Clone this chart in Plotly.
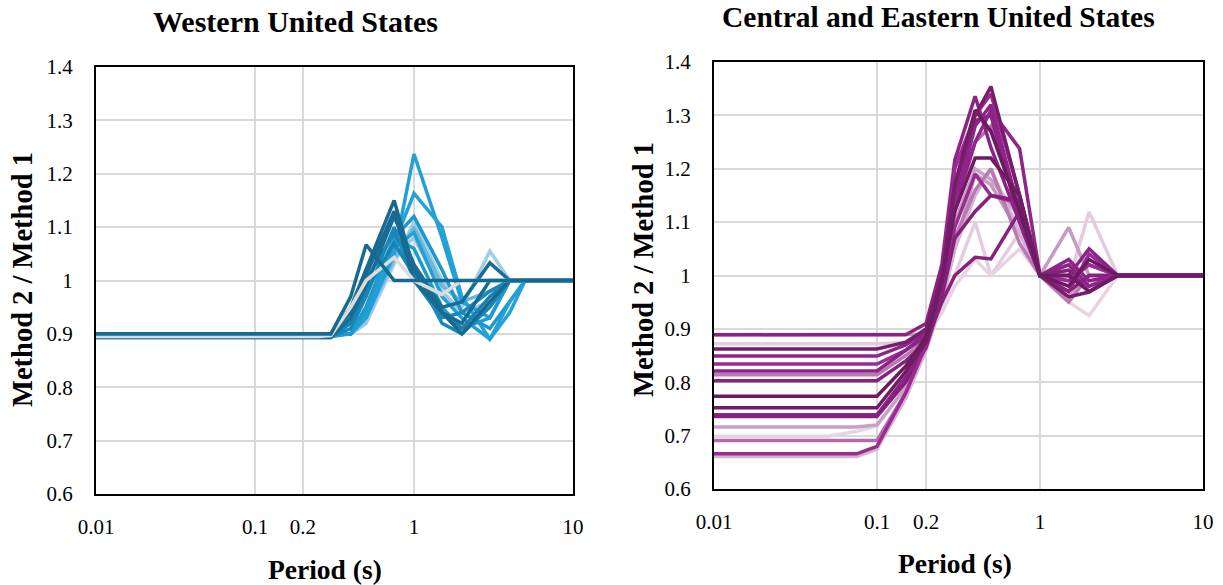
import plotly.graph_objects as go

# Spectral periods (s) shared by both regions
periods = [0.01, 0.02, 0.03, 0.05, 0.075, 0.1, 0.15, 0.2, 0.25, 0.3, 0.4,
           0.5, 0.75, 1, 1.5, 2, 3, 4, 5, 7.5, 10]

x_tickvals = [0.01, 0.1, 0.2, 1, 10]
x_ticktext = ["0.01", "0.1", "0.2", "1", "10"]
y_tickvals = [0.6, 0.7, 0.8, 0.9, 1.0, 1.1, 1.2, 1.3, 1.4]
y_ticktext = ["0.6", "0.7", "0.8", "0.9", "1", "1.1", "1.2", "1.3", "1.4"]

# Western United States: Method 2 / Method 1 ratios
wus_pale_a = [0.9, 0.9, 0.9, 0.9, 0.9, 0.9, 0.9, 0.9, 0.9, 0.9, 0.9, 0.92, 1.03, 1.11, 1.0, 0.95, 1.055, 1.0, 1.0, 1.0, 1.0]
wus_pale_b = [0.9, 0.9, 0.9, 0.9, 0.9, 0.9, 0.9, 0.9, 0.9, 0.9, 0.9, 0.92, 1.05, 1.08, 0.98, 0.94, 0.96, 1.0, 1.0, 1.0, 1.0]
wus_pale_c = [0.9, 0.9, 0.9, 0.9, 0.9, 0.9, 0.9, 0.9, 0.9, 0.9, 0.9, 0.93, 1.04, 1.10, 0.99, 0.96, 0.98, 1.0, 1.0, 1.0, 1.0]
wus_light_a = [0.9, 0.9, 0.9, 0.9, 0.9, 0.9, 0.9, 0.9, 0.9, 0.9, 0.9, 0.93, 1.05, 1.237, 1.08, 0.96, 0.93, 1.0, 1.0, 1.0, 1.0]
wus_light_b = [0.9, 0.9, 0.9, 0.9, 0.9, 0.9, 0.9, 0.9, 0.9, 0.9, 0.9, 0.95, 1.07, 1.163, 1.10, 0.97, 0.89, 0.94, 1.0, 1.0, 1.0]
wus_light_c = [0.895, 0.895, 0.895, 0.895, 0.895, 0.895, 0.895, 0.895, 0.895, 0.895, 0.9, 0.95, 1.08, 1.12, 1.02, 0.94, 0.91, 0.96, 1.0, 1.0, 1.0]
wus_light_d = [0.9, 0.9, 0.9, 0.9, 0.9, 0.9, 0.9, 0.9, 0.9, 0.9, 0.9, 0.94, 1.06, 1.09, 0.97, 0.93, 0.89, 0.96, 1.0, 1.0, 1.0]
wus_light_e = [0.9, 0.9, 0.9, 0.9, 0.9, 0.9, 0.9, 0.9, 0.9, 0.9, 0.9, 0.95, 1.08, 1.06, 0.95, 0.91, 0.93, 1.0, 1.0, 1.0, 1.0]
wus_mid_a = [0.9, 0.9, 0.9, 0.9, 0.9, 0.9, 0.9, 0.9, 0.9, 0.9, 0.92, 1.0, 1.09, 1.02, 0.92, 0.90, 0.95, 1.0, 1.0, 1.0, 1.0]
wus_mid_b = [0.895, 0.895, 0.895, 0.895, 0.895, 0.895, 0.895, 0.895, 0.895, 0.895, 0.91, 0.97, 1.10, 1.0, 0.93, 0.94, 0.98, 1.0, 1.0, 1.0, 1.0]
wus_mid_c = [0.893, 0.893, 0.893, 0.893, 0.893, 0.893, 0.893, 0.893, 0.893, 0.893, 0.92, 0.98, 1.07, 1.01, 0.94, 0.91, 0.97, 1.0, 1.0, 1.0, 1.0]
wus_dark_a = [0.9, 0.9, 0.9, 0.9, 0.9, 0.9, 0.9, 0.9, 0.9, 0.9, 0.95, 1.02, 1.15, 1.02, 0.94, 0.90, 0.96, 1.0, 1.0, 1.0, 1.0]
wus_dark_b = [0.893, 0.893, 0.893, 0.893, 0.893, 0.893, 0.893, 0.893, 0.893, 0.893, 0.93, 0.99, 1.12, 1.03, 0.95, 0.96, 1.033, 1.0, 1.0, 1.0, 1.0]
wus_dark_c = [0.9, 0.9, 0.9, 0.9, 0.9, 0.9, 0.9, 0.9, 0.9, 0.9, 0.94, 1.01, 1.13, 1.0, 0.94, 0.92, 1.0, 1.0, 1.0, 1.0, 1.0]
wus_grey = [0.895, 0.895, 0.895, 0.895, 0.895, 0.895, 0.895, 0.895, 0.895, 0.897, 0.95, 1.0, 1.043, 1.0, 0.974, 1.0, 1.0, 1.0, 1.0, 1.0, 1.0]
wus_dark_d = [0.9, 0.9, 0.9, 0.9, 0.9, 0.9, 0.9, 0.9, 0.9, 0.9, 0.97, 1.067, 1.0, 1.0, 1.0, 1.0, 1.0, 1.0, 1.0, 1.0, 1.0]

wus_series = [wus_pale_a, wus_pale_b, wus_pale_c, wus_light_a, wus_light_b,
              wus_light_c, wus_light_d, wus_light_e, wus_mid_a, wus_mid_b,
              wus_mid_c, wus_dark_a, wus_dark_b, wus_dark_c, wus_grey, wus_dark_d]
wus_colors = ["#a3cde7", "#9dc8e4", "#6cb6de", "#1fa0d6", "#22a2d8",
              "#1c98cd", "#21a0d6", "#1e9ad0", "#1a86b8", "#1b88bb",
              "#1a82b3", "#17698f", "#186d94", "#176b92", "#dcdcdc", "#156a90"]

# Central and Eastern United States: Method 2 / Method 1 ratios
ceus_vpale_a = [0.872, 0.872, 0.872, 0.872, 0.872, 0.872, 0.875, 0.89, 0.94, 1.0, 1.10, 1.0, 1.08, 1.0, 0.99, 1.119, 1.0, 1.0, 1.0, 1.0, 1.0]
ceus_vpale_b = [0.699, 0.699, 0.699, 0.699, 0.708, 0.718, 0.79, 0.885, 0.93, 0.98, 1.03, 1.0, 1.05, 1.0, 0.95, 0.925, 1.0, 1.0, 1.0, 1.0, 1.0]
ceus_pale_a = [0.889, 0.889, 0.889, 0.889, 0.889, 0.889, 0.889, 0.89, 0.95, 1.05, 1.19, 1.17, 1.08, 1.0, 1.09, 1.0, 1.0, 1.0, 1.0, 1.0, 1.0]
ceus_pale_b = [0.716, 0.716, 0.716, 0.716, 0.716, 0.72, 0.79, 0.87, 0.97, 1.1, 1.2, 1.18, 1.11, 1.0, 0.96, 1.0, 1.0, 1.0, 1.0, 1.0, 1.0]
ceus_pale_c = [0.661, 0.661, 0.661, 0.661, 0.661, 0.675, 0.77, 0.86, 0.95, 1.05, 1.15, 1.2, 1.08, 1.0, 1.0, 0.98, 1.0, 1.0, 1.0, 1.0, 1.0]
ceus_pale_d = [0.814, 0.814, 0.814, 0.814, 0.814, 0.814, 0.85, 0.88, 0.96, 1.07, 1.16, 1.20, 1.06, 1.0, 0.95, 1.0, 1.0, 1.0, 1.0, 1.0, 1.0]
ceus_pale_e = [0.691, 0.691, 0.691, 0.691, 0.691, 0.691, 0.78, 0.87, 0.99, 1.12, 1.25, 1.28, 1.13, 1.0, 1.02, 0.98, 1.0, 1.0, 1.0, 1.0, 1.0]
ceus_mid_a = [0.889, 0.889, 0.889, 0.889, 0.889, 0.889, 0.889, 0.91, 1.02, 1.216, 1.336, 1.24, 1.10, 1.0, 1.0, 1.02, 1.0, 1.0, 1.0, 1.0, 1.0]
ceus_mid_b = [0.849, 0.849, 0.849, 0.849, 0.849, 0.849, 0.87, 0.895, 0.99, 1.13, 1.25, 1.31, 1.2375, 1.0, 1.02, 0.98, 1.0, 1.0, 1.0, 1.0, 1.0]
ceus_mid_c = [0.834, 0.834, 0.834, 0.834, 0.834, 0.834, 0.86, 0.885, 0.97, 1.09, 1.19, 1.15, 1.135, 1.0, 0.97, 1.04, 1.0, 1.0, 1.0, 1.0, 1.0]
ceus_mid_d = [0.821, 0.821, 0.821, 0.821, 0.821, 0.821, 0.86, 0.89, 1.01, 1.15, 1.29, 1.30, 1.10, 1.0, 1.0, 1.05, 1.0, 1.0, 1.0, 1.0, 1.0]
ceus_mid_e = [0.803, 0.803, 0.803, 0.803, 0.803, 0.803, 0.84, 0.875, 0.95, 1.0, 1.034, 1.031, 1.12, 1.0, 0.97, 1.0, 1.0, 1.0, 1.0, 1.0, 1.0]
ceus_mid_f = [0.739, 0.739, 0.739, 0.739, 0.739, 0.739, 0.81, 0.87, 0.98, 1.13, 1.28, 1.32, 1.12, 1.0, 1.03, 0.99, 1.0, 1.0, 1.0, 1.0, 1.0]
ceus_mid_g = [0.736, 0.736, 0.736, 0.736, 0.736, 0.736, 0.80, 0.865, 0.96, 1.07, 1.12, 1.15, 1.14, 1.0, 1.01, 0.97, 1.0, 1.0, 1.0, 1.0, 1.0]
ceus_mid_h = [0.666, 0.666, 0.666, 0.666, 0.666, 0.68, 0.78, 0.87, 1.0, 1.2, 1.30, 1.34, 1.15, 1.0, 0.99, 1.02, 1.0, 1.0, 1.0, 1.0, 1.0]
ceus_dark_a = [0.774, 0.774, 0.774, 0.774, 0.774, 0.774, 0.83, 0.885, 0.99, 1.17, 1.31, 1.27, 1.12, 1.0, 0.98, 1.03, 1.0, 1.0, 1.0, 1.0, 1.0]
ceus_dark_b = [0.8625, 0.8625, 0.8625, 0.8625, 0.8625, 0.8625, 0.875, 0.9, 1.0, 1.17, 1.30, 1.354, 1.15, 1.0, 0.96, 0.969, 1.0, 1.0, 1.0, 1.0, 1.0]
ceus_dark_c = [0.752, 0.752, 0.752, 0.752, 0.752, 0.752, 0.82, 0.875, 0.99, 1.12, 1.22, 1.22, 1.15, 1.0, 1.0, 0.97, 1.0, 1.0, 1.0, 1.0, 1.0]

ceus_series = [ceus_vpale_a, ceus_vpale_b, ceus_pale_a, ceus_pale_b, ceus_pale_c,
               ceus_pale_d, ceus_pale_e, ceus_mid_a, ceus_mid_b, ceus_mid_c,
               ceus_mid_d, ceus_mid_e, ceus_mid_f, ceus_mid_g, ceus_mid_h,
               ceus_dark_a, ceus_dark_b, ceus_dark_c]
ceus_colors = ["#e2cde0", "#e6d3e4", "#c79ac2", "#c9a0c4", "#d4b3d0",
               "#b979b3", "#b56aae", "#8b2387", "#8e2589", "#982c90",
               "#8c2387", "#88227f", "#8e2489", "#84207e", "#9a2b92",
               "#6a1b5e", "#771d6a", "#6f1c62"]

SERIF = "Liberation Serif, Times New Roman, serif"

fig = go.Figure()

for ys, col in zip(wus_series, wus_colors):
    fig.add_trace(go.Scatter(x=periods, y=ys, mode="lines",
                             line=dict(color=col, width=3.5),
                             xaxis="x", yaxis="y", hoverinfo="skip"))
for ys, col in zip(ceus_series, ceus_colors):
    fig.add_trace(go.Scatter(x=periods, y=ys, mode="lines",
                             line=dict(color=col, width=3.5),
                             xaxis="x2", yaxis="y2", hoverinfo="skip"))

W, H = 1223, 585


def xaxis_cfg(left, right, anchor):
    return dict(type="log", range=[-2, 1], domain=[left / W, right / W],
                anchor=anchor, tickvals=x_tickvals, ticktext=x_ticktext,
                showgrid=True, gridcolor="#d9d9d9", gridwidth=2,
                showline=True, mirror=True, linecolor="black", linewidth=2,
                ticks="", ticklabelstandoff=13, zeroline=False,
                automargin=False,
                tickfont=dict(family=SERIF, size=21, color="black"))


def yaxis_cfg(top, bottom, anchor):
    return dict(range=[0.6, 1.4], domain=[(H - bottom) / H, (H - top) / H],
                anchor=anchor, tickvals=y_tickvals, ticktext=y_ticktext,
                showgrid=True, gridcolor="#d9d9d9", gridwidth=2,
                showline=True, mirror=True, linecolor="black", linewidth=2,
                ticks="", ticklabelstandoff=17, zeroline=False,
                automargin=False,
                tickfont=dict(family=SERIF, size=21, color="black"))


def label(text, x, y, size, angle=0):
    return dict(text=f"<b>{text}</b>", x=x / W, y=1 - y / H, xref="paper",
                yref="paper", showarrow=False, textangle=angle,
                xanchor="center", yanchor="middle",
                font=dict(family=SERIF, size=size, color="black"))


fig.update_layout(
    width=W, height=H, autosize=False,
    margin=dict(l=0, r=0, t=0, b=0, pad=0, autoexpand=False),
    paper_bgcolor="white", plot_bgcolor="white",
    showlegend=False,
    xaxis=xaxis_cfg(96, 573, "y"),
    yaxis=yaxis_cfg(67, 494, "x"),
    xaxis2=xaxis_cfg(714, 1203, "y2"),
    yaxis2=yaxis_cfg(62, 489, "x2"),
    annotations=[
        label("Western United States", 295, 22, 30),
        label("Central and Eastern United States", 938, 17, 29.5),
        label("Method 2 / Method 1", 22, 280, 28.5, -90),
        label("Method 2 / Method 1", 643, 270, 28.5, -90),
        label("Period (s)", 325, 569, 27.5),
        label("Period (s)", 955, 563, 27.5),
    ],
)

fig.write_html(
    "out.html",
    config={"responsive": False, "displayModeBar": False},
    post_script="document.body.style.margin='0';document.body.style.overflow='hidden';",
)
